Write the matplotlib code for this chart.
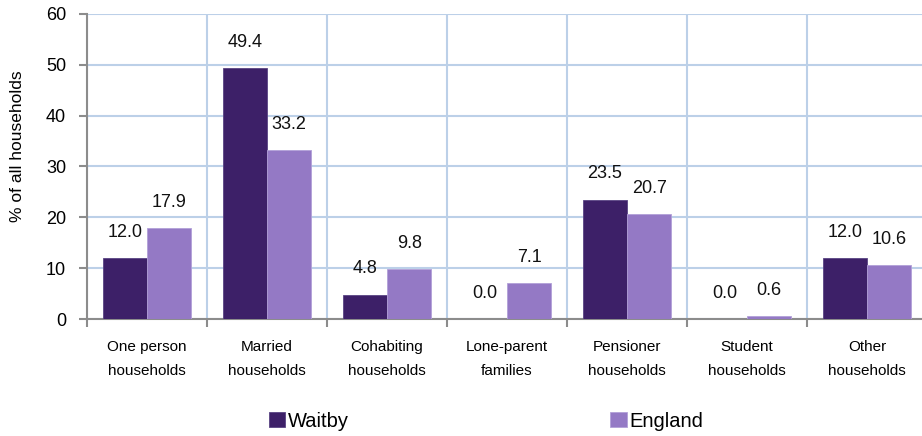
import matplotlib.pyplot as plt
import numpy as np

plt.rcParams['font.family'] = ['Liberation Sans', 'DejaVu Sans']

# household composition, % of all households
categories = ["One person\nhouseholds", "Married\nhouseholds", "Cohabiting\nhouseholds",
              "Lone-parent\nfamilies", "Pensioner\nhouseholds", "Student\nhouseholds",
              "Other\nhouseholds"]
waitby = [12.0, 49.4, 4.8, 0.0, 23.5, 0.0, 12.0]
england = [17.9, 33.2, 9.8, 7.1, 20.7, 0.6, 10.6]
series_names = ["Waitby", "England"]

dark = "#3d2068"
light = "#9479c5"
grid_col = "#bcd0e8"
spine_col = "#8c8c8c"

fig = plt.figure(figsize=(9.22, 4.36), dpi=100)
ax = fig.add_axes([87 / 922, 1 - 319 / 436, 840 / 922, 305 / 436])

x = np.arange(len(categories))
w = 0.37
b1 = ax.bar(x - w / 2, waitby, w, color=dark, edgecolor="#5a4484", linewidth=0.6, zorder=3)
b2 = ax.bar(x + w / 2, england, w, color=light, edgecolor="#b2a0d8", linewidth=0.6, zorder=3)

# value labels above each bar
for bars, vals in [(b1, waitby), (b2, england)]:
    for rect, v in zip(bars, vals):
        ax.annotate(f"{v:.1f}", (rect.get_x() + rect.get_width() / 2, v),
                    xytext=(0, 18.5), textcoords="offset points",
                    ha="center", va="center", fontsize=13, color="#111111")

ax.set_xlim(-0.5, len(categories) - 0.5)
ax.set_ylim(0, 60)
ax.set_yticks(range(0, 61, 10))

# category boundaries as ticks/grid, names in between
ax.set_xticks(np.arange(-0.5, len(categories), 1))
ax.set_xticklabels([])
ax.set_xticks(x, minor=True)
ax.set_xticklabels(categories, minor=True, fontsize=11, linespacing=1.95)
ax.tick_params(axis="x", which="minor", length=0, pad=15)
ax.tick_params(axis="x", which="major", length=6, width=1.5, color=spine_col)
ax.tick_params(axis="y", length=6, width=1.5, color=spine_col, labelsize=13, pad=9)

ax.grid(True, which="major", color=grid_col, linewidth=1.5, zorder=0)
ax.set_axisbelow(True)

for s in ["top", "right"]:
    ax.spines[s].set_visible(False)
for s in ["left", "bottom"]:
    ax.spines[s].set_color(spine_col)
    ax.spines[s].set_linewidth(1.5)

ax.set_ylabel("% of all households", fontsize=12.5)
ax.yaxis.set_label_coords(-0.074, 0.567)

fig.legend([b1, b2], series_names, loc="center", bbox_to_anchor=(486 / 922, 1 - 421 / 436),
           ncol=2, frameon=False, fontsize=14.5, handlelength=0.8, handleheight=0.75,
           handletextpad=0.15, columnspacing=13)

fig.savefig("out.png", dpi=100)
